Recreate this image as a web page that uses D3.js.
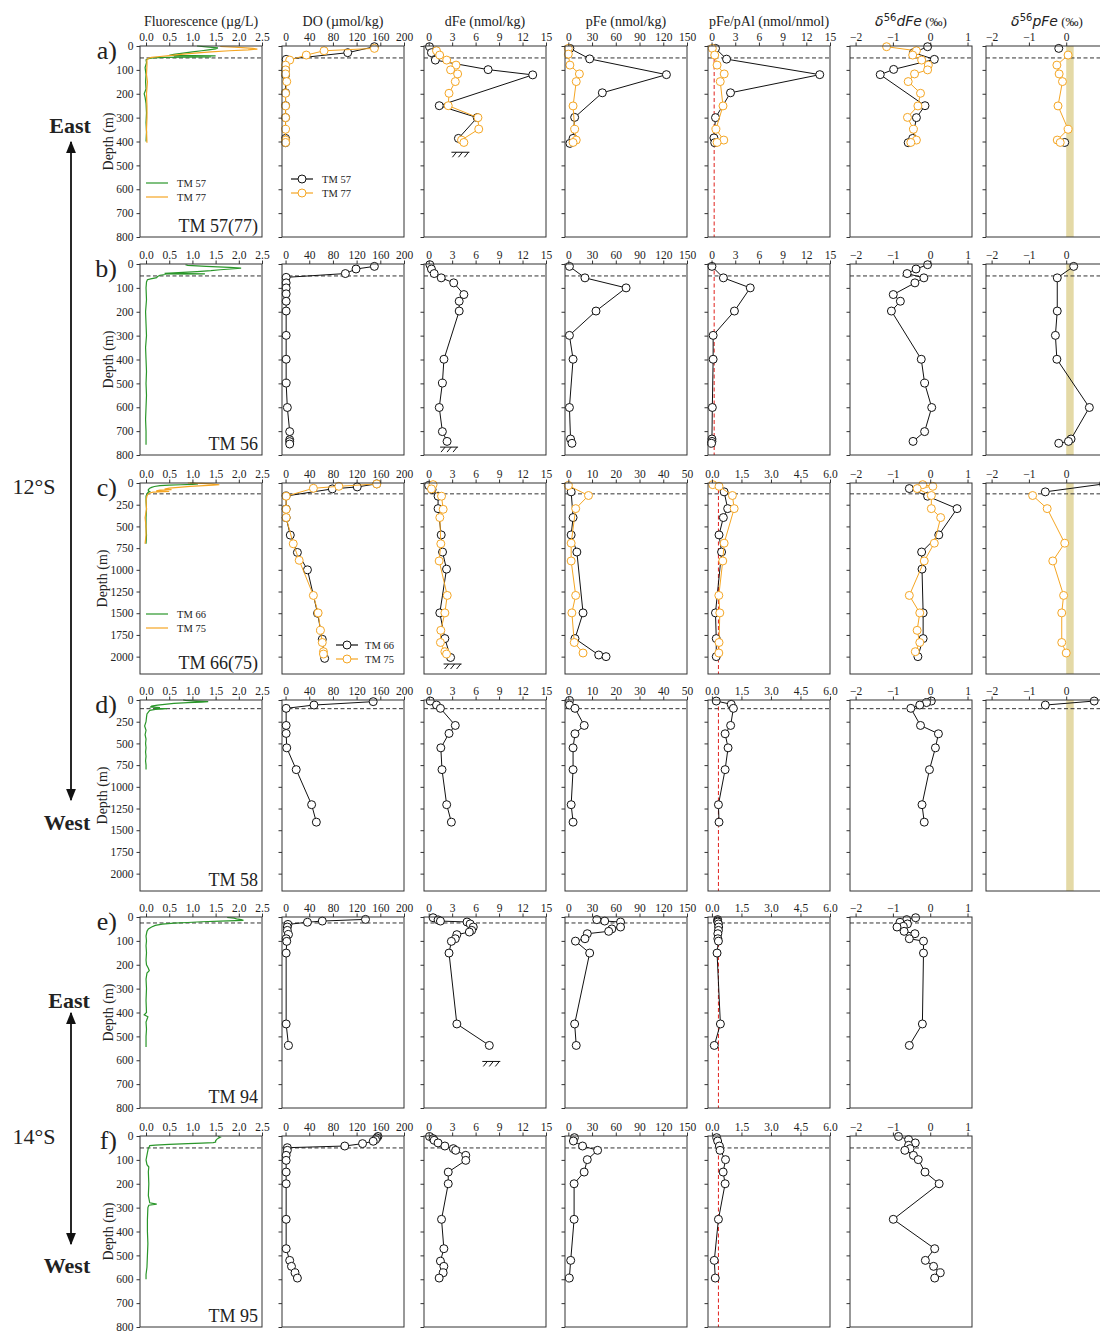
<!DOCTYPE html>
<html>
<head>
<meta charset="utf-8">
<script src="https://cdn.jsdelivr.net/npm/d3@7"></script>
<style>
body { margin: 0; background: #fff; }
svg text { font-family: "Liberation Serif", "Times New Roman", serif; fill: #222; }
</style>
</head>
<body>
<script>
// ---- data: [depth (m), value] ----
// a) TM 57 / TM 77
var fl_tm57 = [[0,1.1],[4,1.3],[8,1.55],[12,1.5],[16,1.35],[20,1.2],[25,1.0],[30,0.8],[35,0.6],[39,0.5],[41,1.5],[43,0.6],[46,1.4],[48,0.4],[50,0.15],[53,0.05],[58,0.0],[70,0.01],[90,-0.02],[120,0.0],[150,-0.01],[180,0.0],[200,-0.04],[215,-0.02],[240,0.0],[280,0.01],[320,0.0],[360,0.01],[400,0.0]];
var fl_tm77 = [[2,1.6],[6,2.0],[10,2.3],[13,2.4],[16,2.2],[20,1.8],[25,1.4],[30,1.05],[35,0.75],[40,0.5],[44,0.3],[48,0.12],[52,0.04],[58,0.02],[80,0.02],[120,0.01],[150,0.03],[200,0.01],[250,0.02],[300,0.02],[350,0.01],[405,0.02]];
var do_tm57 = [[3,150],[28,105],[56,1],[99,0],[121,0],[196,0],[250,0],[300,0],[387,0],[405,0]];
var do_tm77 = [[10,150],[20,65],[38,35],[59,7],[80,0],[100,0],[117,0],[149,2],[198,0],[251,0],[300,0],[349,0],[394,0],[404,0]];
var dfe_tm57 = [[3,0.1],[28,0.35],[59,0.85],[99,7.6],[121,13.3],[250,1.35],[300,6.2],[387,3.8]];
var dfe_tm77 = [[20,1.0],[38,1.4],[59,2.3],[80,3.5],[100,2.8],[117,3.7],[149,3.4],[198,2.6],[250,2.5],[300,6.3],[348,6.4],[394,4.2],[404,4.5]];
var pfe_tm57 = [[10,2],[54,27],[120,124],[196,43],[299,8],[387,6],[408,2]];
var pfe_tm77 = [[10,0],[34,0],[80,2],[117,14],[149,10],[251,6],[349,8],[394,10],[404,6]];
var ratio_tm57 = [[10,0.5],[55,1.9],[120,13.7],[196,2.4],[300,0.5],[385,0.3],[405,0.4]];
var ratio_tm77 = [[10,0.1],[38,0.4],[80,0.7],[117,1.6],[149,1.1],[251,1.45],[349,0.55],[394,1.55],[404,0.7]];
var d56d_tm57 = [[3,-0.07],[28,-0.45],[56,0.11],[98,-0.98],[120,-1.34],[250,-0.14],[300,-0.37],[387,-0.47],[405,-0.59]];
var d56d_tm77 = [[3,-1.17],[20,-0.37],[38,-0.47],[59,-0.23],[80,-0.05],[100,-0.07],[117,-0.42],[149,-0.59],[198,-0.26],[251,-0.33],[299,-0.61],[349,-0.45],[394,-0.37],[404,-0.52]];
var d56p_tm57 = [[10,-0.2],[54,null],[404,-0.04]];
var d56p_tm77 = [[38,0.05],[80,-0.25],[117,-0.19],[149,-0.1],[251,-0.22],[349,0.05],[394,-0.24],[404,-0.16]];

// b) TM 56
var fl_tm56 = [[3,0.85],[6,0.9],[10,1.3],[14,1.8],[17,2.05],[20,1.9],[24,1.6],[28,1.4],[32,1.1],[36,0.7],[39,0.4],[41,1.27],[43,0.45],[47,0.3],[52,0.25],[57,0.23],[62,0.1],[66,0.03],[75,0.01],[100,0.0],[150,0.01],[200,-0.01],[250,0.0],[300,0.01],[350,-0.01],[400,0.0],[450,0.01],[500,0.0],[550,0.01],[600,0.0],[650,-0.01],[700,0.0],[757,0.0]];
var do_tm56 = [[10,150],[21,119],[40,101],[56,1],[79,1],[100,1],[125,1],[156,1],[197,1],[299,1],[399,1],[499,1],[601,3],[702,7],[736,7],[744,7],[754,7]];
var dfe_tm56 = [[3,0.15],[21,0.35],[40,0.7],[58,1.6],[79,3.2],[128,4.5],[156,3.9],[197,3.9],[399,1.95],[499,1.75],[601,1.35],[702,1.75],[743,2.35]];
var pfe_tm56 = [[10,1.4],[58,21],[100,73],[197,35],[299,1.4],[399,6],[601,1.4],[733,2.8],[751,4.6]];
var ratio_tm56 = [[10,0.05],[58,1.5],[100,4.9],[197,2.9],[299,0.2],[399,0.2],[601,0.1],[733,0.05],[743,0.05],[751,0.0]];
var d56d_tm56 = [[3,-0.07],[21,-0.38],[40,-0.62],[58,-0.17],[79,-0.41],[128,-0.99],[156,-0.8],[197,-1.04],[399,-0.24],[499,-0.15],[601,0.04],[702,-0.15],[743,-0.46]];
var d56p_tm56 = [[10,0.2],[58,-0.24],[197,-0.24],[299,-0.29],[399,-0.25],[601,0.62],[733,0.13],[743,0.06],[751,-0.2]];

// c) TM 66 / TM 75
var fl_tm66 = [[0,0.95],[5,1.05],[10,1.12],[15,1.0],[20,0.75],[25,0.5],[30,0.3],[40,0.18],[50,0.12],[60,0.08],[75,0.05],[90,0.05],[100,0.08],[110,0.04],[125,0.02],[150,0.0],[200,0.0],[300,0.01],[400,0.0],[500,0.0],[600,0.01],[700,0.0]];
var fl_tm75 = [[0,0.9],[5,1.2],[10,1.4],[15,1.5],[20,1.58],[25,1.45],[30,1.25],[40,0.95],[50,0.7],[60,0.5],[70,0.4],[76,0.55],[82,0.3],[90,0.22],[98,0.5],[106,0.15],[115,0.08],[130,0.04],[150,0.02],[200,0.0],[300,0.01],[400,-0.02],[500,0.0],[600,0.0],[700,-0.02]];
var do_tm66 = [[10,154],[45,121],[68,79],[150,1],[300,1],[400,1],[600,8],[800,20],[1000,37],[1500,54],[1800,62],[2020,66]];
var do_tm75 = [[11,154],[38,90],[61,47],[152,1],[303,1],[398,1],[700,13],[890,23],[1295,47],[1496,55],[1697,59],[1837,62],[1943,64],[1970,64]];
var dfe_tm66 = [[30,0],[76,0.43],[152,1.2],[295,1.2],[598,1.6],[795,1.77],[992,2.28],[1496,1.42],[1792,2.07],[2010,2.8]];
var dfe_tm75 = [[19,0.56],[68,0.35],[152,1.64],[303,1.85],[398,1.42],[700,1.55],[898,1.34],[1295,2.37],[1496,2.07],[1697,1.55],[1837,1.5],[1943,2.07],[1970,2.28]];
var pfe_tm66 = [[102,1.2],[398,2],[598,1.2],[795,3.6],[1496,6.2],[1792,2.8],[1981,12.8],[2000,15.9]];
var pfe_tm75 = [[30,0],[144,8.5],[295,3.1],[693,1.2],[898,1.2],[1295,3.1],[1496,1.5],[1837,2.5],[1958,6.2]];
var ratio_tm66 = [[102,0.62],[295,0.8],[398,0.58],[598,0.36],[795,0.49],[1496,0.18],[1792,0.22],[2000,0.22]];
var ratio_tm75 = [[19,0.04],[38,0.36],[144,1.04],[295,1.13],[693,0.62],[898,0.55],[1295,0.35],[1496,0.4],[1837,0.36],[1958,0.35]];
var d56d_tm66 = [[64,-0.56],[152,-0.07],[295,0.72],[598,0.23],[795,-0.23],[992,-0.22],[1496,-0.19],[1792,-0.19],[2000,-0.33]];
var d56d_tm75 = [[19,-0.2],[38,0.07],[64,-0.35],[144,0.03],[295,0.03],[398,0.28],[693,0.11],[898,-0.16],[1295,-0.56],[1496,-0.28],[1697,-0.35],[1837,-0.28],[1943,-0.4]];
var d56p_tm66 = [[11,1.0],[102,-0.56]];
var d56p_tm75 = [[144,-0.9],[295,-0.51],[693,-0.04],[898,-0.36],[1295,-0.07],[1496,-0.12],[1837,-0.12],[1958,0]];

// d) TM 58
var fl_tm58 = [[0,0.8],[5,0.85],[10,1.0],[15,1.2],[19,1.34],[24,1.2],[30,0.9],[40,0.6],[50,0.4],[60,0.25],[70,0.12],[80,0.1],[88,0.3],[95,0.2],[100,0.45],[108,0.2],[120,0.08],[140,0.05],[160,0.02],[200,0.01],[250,0.0],[300,-0.03],[350,0.0],[400,-0.02],[450,0.0],[500,-0.01],[550,0.0],[600,-0.01],[650,0.0],[700,-0.01],[750,0.0],[800,0.0]];
var do_tm58 = [[19,148],[58,48],[96,1],[293,1],[385,1],[551,2],[802,18],[1206,44],[1407,52]];
var dfe_tm58 = [[12,0.2],[58,1.0],[96,1.5],[293,3.4],[385,2.6],[551,1.55],[802,1.7],[1206,2.3],[1407,2.9]];
var pfe_tm58 = [[5,0.5],[58,0.5],[96,2.8],[293,6.7],[389,2.8],[551,2],[802,2],[1206,1.2],[1407,2]];
var ratio_tm58 = [[12,0.22],[50,0.98],[96,1.09],[293,0.95],[389,0.67],[551,0.82],[802,0.67],[1206,0.33],[1407,0.36]];
var d56d_tm58 = [[12,0.03],[30,-0.1],[58,-0.28],[96,-0.52],[293,-0.26],[389,0.22],[551,0.14],[802,-0.02],[1206,-0.22],[1407,-0.16]];
var d56p_tm58 = [[12,0.75],[58,-0.56]];

// e) TM 94
var fl_tm94 = [[2,1.75],[5,1.9],[8,1.95],[11,2.05],[14,2.1],[17,1.6],[20,1.2],[23,0.9],[26,0.6],[30,0.35],[35,0.2],[42,0.12],[50,0.05],[60,0.02],[80,0.0],[100,0.01],[120,0.0],[150,0.01],[180,0.0],[200,0.01],[215,0.05],[225,0.07],[235,0.02],[260,0.0],[300,0.01],[350,0.0],[400,0.01],[410,-0.04],[418,0.04],[440,0.0],[470,0.01],[500,0.0],[545,0.0]];
var do_tm94 = [[10,135],[17,62],[22,37],[31,4],[42,3],[56,3],[73,5],[91,1],[102,2],[151,1],[448,1],[538,5]];
var dfe_tm94 = [[3,0.56],[12,1.2],[17,1.5],[21,4.9],[29,5.3],[42,5.7],[56,5.5],[63,5.2],[74,3.6],[91,3.4],[102,2.9],[151,2.6],[448,3.6],[538,7.75]];
var pfe_tm94 = [[11,36],[17,46],[21,66],[42,66],[50,55],[60,51],[70,24],[91,21],[101,9],[151,27],[448,8],[538,10]];
var ratio_tm94 = [[11,0.29],[17,0.29],[21,0.3],[29,0.33],[42,0.34],[56,0.33],[70,0.3],[91,0.3],[101,0.33],[151,0.26],[448,0.43],[538,0.12]];
var d56d_tm94 = [[3,-0.39],[11,-0.63],[22,-0.81],[29,-0.61],[39,-0.72],[42,-0.89],[60,-0.7],[70,-0.41],[91,-0.56],[101,-0.18],[151,-0.18],[448,-0.21],[538,-0.56]];

// f) TM 95
var fl_tm95 = [[2,1.55],[5,1.6],[10,1.55],[15,1.52],[20,1.5],[25,1.5],[28,1.45],[30,1.2],[32,0.9],[35,0.5],[38,0.2],[40,0.08],[45,0.07],[50,0.05],[60,0.04],[80,0.02],[100,0.0],[120,0.02],[130,0.06],[150,0.05],[200,0.06],[250,0.05],[280,0.08],[285,0.23],[290,0.06],[295,0.05],[300,0.04],[350,0.03],[400,0.03],[450,0.04],[500,0.03],[550,0.02],[580,0.0],[600,0.0]];
var do_tm95 = [[2,156],[8,154],[15,152],[22,148],[32,130],[42,100],[49,3],[60,3],[81,1],[102,1],[151,1],[200,1],[349,1],[472,1],[521,7],[546,10],[573,16],[595,20]];
var dfe_tm95 = [[2,0.1],[11,0.56],[18,0.7],[29,1.2],[42,2.07],[53,3.15],[60,3.45],[81,4.74],[102,4.74],[151,2.5],[200,2.5],[349,1.64],[472,1.94],[524,1.5],[546,1.94],[573,1.85],[595,1.34]];
var pfe_tm95 = [[7,7.7],[21,6.4],[42,18],[60,37],[99,24],[151,20],[200,7.3],[349,7.3],[521,3],[595,1.3]];
var ratio_tm95 = [[7,0.24],[21,0.29],[42,0.38],[60,0.41],[99,0.69],[151,0.57],[200,0.67],[349,0.33],[521,0.12],[595,0.17]];
var d56d_tm95 = [[2,-0.85],[15,-0.58],[29,-0.4],[39,-0.58],[53,-0.54],[60,-0.68],[81,-0.45],[99,-0.32],[151,-0.14],[200,0.24],[349,-0.99],[472,0.12],[521,-0.13],[546,0.09],[573,0.27],[595,0.12]];

// per-row settings
var rowTags = ["a)", "b)", "c)", "d)", "e)", "f)"];
var stationNames = ["TM 57(77)", "TM 56", "TM 66(75)", "TM 58", "TM 94", "TM 95"];
var depthMax = [800, 800, 2200, 2200, 800, 800];
var mixedLayer = [50, 50, 125, 100, 25, 50];
var seafloor = [445, 767, 2085, null, 605, null];
var pfeMax = [150, 150, 50, 50, 150, 150];
var ratioMax = [15, 15, 6, 6, 6, 6];
var headers = ["Fluorescence (\u00b5g/L)", "DO (\u00b5mol/kg)", "dFe (nmol/kg)", "pFe (nmol/kg)", "pFe/pAl (nmol/nmol)", "dFe", "pFe"];
var crustalRatio = 0.33;
var pFeBand = [0, 0.2];

var rowsData = [
  [[fl_tm57, fl_tm77], [do_tm57, do_tm77], [dfe_tm57, dfe_tm77], [pfe_tm57, pfe_tm77], [ratio_tm57, ratio_tm77], [d56d_tm57, d56d_tm77], [d56p_tm57, d56p_tm77]],
  [[fl_tm56], [do_tm56], [dfe_tm56], [pfe_tm56], [ratio_tm56], [d56d_tm56], [d56p_tm56]],
  [[fl_tm66, fl_tm75], [do_tm66, do_tm75], [dfe_tm66, dfe_tm75], [pfe_tm66, pfe_tm75], [ratio_tm66, ratio_tm75], [d56d_tm66, d56d_tm75], [d56p_tm66, d56p_tm75]],
  [[fl_tm58], [do_tm58], [dfe_tm58], [pfe_tm58], [ratio_tm58], [d56d_tm58], [d56p_tm58]],
  [[fl_tm94], [do_tm94], [dfe_tm94], [pfe_tm94], [ratio_tm94], [d56d_tm94]],
  [[fl_tm95], [do_tm95], [dfe_tm95], [pfe_tm95], [ratio_tm95], [d56d_tm95]]
];
var legendNames = [["TM 57", "TM 77"], null, ["TM 66", "TM 75"], null, null, null];

// ---- layout ----
var colLeft = [140, 282, 424, 565, 708, 850, 986];
var rowTop = [46, 264, 483, 700, 917, 1136];
var pw = 122, ph = 191;
var black = "#111", orange = "#f5a623", green = "#2a962a";

var svg = d3.select("body").append("svg")
  .attr("width", 1100)
  .attr("height", 1331);

function xSetup(ci, ri) {
  if (ci == 0) return {dom: [-0.13, 2.5], ticks: d3.range(0, 2.51, 0.5), fmt: d3.format(".1f")};
  if (ci == 1) return {dom: [-6, 200], ticks: d3.range(0, 201, 40), fmt: d3.format("d")};
  if (ci == 2) return {dom: [-0.6, 15], ticks: d3.range(0, 16, 3), fmt: d3.format("d")};
  if (ci == 3) { var m = pfeMax[ri]; return {dom: [-m * 0.028, m], ticks: d3.range(0, m + 1, m / 5), fmt: d3.format("d")}; }
  if (ci == 4) {
    var r = ratioMax[ri];
    if (r == 15) return {dom: [-0.45, 15], ticks: d3.range(0, 16, 3), fmt: d3.format("d")};
    return {dom: [-0.2, 6], ticks: d3.range(0, 6.01, 1.5), fmt: d3.format(".1f")};
  }
  return {dom: [-2.15, 1.12], ticks: [-2, -1, 0, 1], fmt: d3.format("d")};
}

rowsData.forEach(function(cols, ri) {
  var top = rowTop[ri];
  var y = d3.scaleLinear().domain([0, depthMax[ri]]).range([0, ph]);

  cols.forEach(function(series, ci) {
    var xs = xSetup(ci, ri);
    var x = d3.scaleLinear().domain(xs.dom).range([0, pw]);
    var g = svg.append("g").attr("transform", "translate(" + colLeft[ci] + "," + top + ")");

    // shaded band for d56pFe
    if (ci == 6) {
      g.append("rect")
        .attr("x", x(pFeBand[0])).attr("y", 0)
        .attr("width", x(pFeBand[1]) - x(pFeBand[0])).attr("height", ph)
        .attr("fill", "#e4d9a6");
    }
    // crustal pFe/pAl ratio
    if (ci == 4) {
      g.append("line")
        .attr("x1", x(crustalRatio)).attr("x2", x(crustalRatio))
        .attr("y1", 0).attr("y2", ph)
        .attr("stroke", "#e0201c").attr("stroke-width", 1)
        .attr("stroke-dasharray", "4,2.5");
    }
    // mixed layer depth
    g.append("line")
      .attr("x1", 0).attr("x2", pw)
      .attr("y1", y(mixedLayer[ri])).attr("y2", y(mixedLayer[ri]))
      .attr("stroke", "#333").attr("stroke-width", 1)
      .attr("stroke-dasharray", "4,2.5");

    var line = d3.line()
      .defined(function(d) { return d[1] != null; })
      .x(function(d) { return x(d[1]); })
      .y(function(d) { return y(d[0]); });

    series.forEach(function(data, si) {
      if (ci == 0) {
        g.append("path").datum(data)
          .attr("d", line)
          .attr("fill", "none")
          .attr("stroke", si == 0 ? green : orange)
          .attr("stroke-width", 1.2);
      } else {
        var c = si == 0 ? black : orange;
        g.append("path").datum(data)
          .attr("d", line)
          .attr("fill", "none")
          .attr("stroke", c)
          .attr("stroke-width", 1);
        g.selectAll(null)
          .data(data.filter(function(d) { return d[1] != null; }))
          .enter().append("circle")
          .attr("cx", function(d) { return x(d[1]); })
          .attr("cy", function(d) { return y(d[0]); })
          .attr("r", 4)
          .attr("fill", "#fff")
          .attr("stroke", c)
          .attr("stroke-width", 1);
      }
    });

    // seafloor mark under dFe
    if (ci == 2 && seafloor[ri] != null) {
      var last = series[0][series[0].length - 1];
      var cx = x(last[1]) + 2, cy = y(seafloor[ri]);
      g.append("path")
        .attr("d", "M" + (cx - 9) + "," + cy + "H" + (cx + 9) +
          "M" + (cx - 8) + "," + (cy + 5) + "L" + (cx - 4) + "," + cy +
          "M" + (cx - 2) + "," + (cy + 5) + "L" + (cx + 2) + "," + cy +
          "M" + (cx + 4) + "," + (cy + 5) + "L" + (cx + 8) + "," + cy)
        .attr("fill", "none").attr("stroke", "#111").attr("stroke-width", 1);
    }

    // axes
    var ax = g.append("g").call(d3.axisTop(x).tickValues(xs.ticks).tickFormat(xs.fmt).tickSize(3.5).tickPadding(2));
    var ay = g.append("g").call(d3.axisLeft(y)
      .tickValues(depthMax[ri] == 800 ? d3.range(0, 801, 100) : d3.range(0, 2001, 250))
      .tickSize(3.5).tickPadding(3)
      .tickFormat(ci == 0 ? d3.format("d") : ""));
    [ax, ay].forEach(function(a) {
      a.select(".domain").remove();
      a.selectAll("line").attr("stroke", "#333");
      a.selectAll("text").attr("font-size", 11.5).attr("fill", "#222")
        .style("font-family", "'Liberation Serif', serif");
    });

    g.append("rect").attr("width", pw).attr("height", ph)
      .attr("fill", "none").attr("stroke", "#333").attr("stroke-width", 1);

    // column headers
    if (ri == 0) {
      var ht = g.append("text").attr("x", pw / 2).attr("y", -20)
        .attr("text-anchor", "middle").attr("font-size", 14);
      if (ci < 5) {
        ht.text(headers[ci]);
      } else {
        ht.append("tspan").text("\u03b4").style("font-family", "'DejaVu Sans', sans-serif").style("font-style", "italic");
        ht.append("tspan").text("56").attr("dy", -5).attr("font-size", 10).style("font-family", "'DejaVu Sans', sans-serif");
        ht.append("tspan").text(headers[ci]).attr("dy", 5).style("font-family", "'DejaVu Sans', sans-serif").style("font-style", "italic");
        ht.append("tspan").text(" (\u2030)").attr("font-size", 13);
      }
    }

    if (ci == 0) {
      g.append("text").attr("x", pw - 4).attr("y", ph - 5)
        .attr("text-anchor", "end").attr("font-size", 18)
        .text(stationNames[ri]);
      g.append("text").attr("x", -23).attr("y", 13)
        .attr("text-anchor", "end").attr("font-size", 26)
        .text(rowTags[ri]);
      var dx = depthMax[ri] == 800 ? -27 : -33;
      g.append("text")
        .attr("transform", "translate(" + dx + "," + (ph / 2) + ") rotate(-90)")
        .attr("text-anchor", "middle").attr("font-size", 14)
        .text("Depth (m)");
    }

    // legends
    if (legendNames[ri] && (ci == 0 || ci == 1)) {
      var lx, ly, tx;
      if (ci == 0) { lx = 6; tx = 37; ly = ri == 0 ? 137 : 131; }
      else if (ri == 0) { lx = 9; tx = 40; ly = 133; }
      else { lx = 54; tx = 83; ly = 162; }
      legendNames[ri].forEach(function(name, si) {
        var c = si == 0 ? (ci == 0 ? green : black) : orange;
        var yy = ly + si * 14;
        g.append("line").attr("x1", lx).attr("x2", lx + 22).attr("y1", yy).attr("y2", yy)
          .attr("stroke", c).attr("stroke-width", 1.2);
        if (ci == 1) {
          g.append("circle").attr("cx", lx + 11).attr("cy", yy).attr("r", 4)
            .attr("fill", "#fff").attr("stroke", c);
        }
        g.append("text").attr("x", tx).attr("y", yy + 3.5).attr("font-size", 10.5).text(name);
      });
    }
  });
});

// side annotations
svg.append("defs").append("marker")
  .attr("id", "ah").attr("viewBox", "0 0 10 10").attr("refX", 9).attr("refY", 5)
  .attr("markerWidth", 7).attr("markerHeight", 7).attr("orient", "auto-start-reverse")
  .append("path").attr("d", "M0,1L10,5L0,9z").attr("fill", "#111");

function arrow(x, y1, y2) {
  svg.append("line").attr("x1", x).attr("x2", x).attr("y1", y1).attr("y2", y2)
    .attr("stroke", "#111").attr("stroke-width", 1.8)
    .attr("marker-start", "url(#ah)").attr("marker-end", "url(#ah)");
}
arrow(71, 142, 800);
arrow(71, 1013, 1244);

function side(t, x, y, bold) {
  svg.append("text").attr("x", x).attr("y", y).attr("text-anchor", "middle")
    .attr("font-size", 22).attr("font-weight", bold ? "bold" : "normal").text(t);
}
side("East", 70, 133, true);
side("West", 67, 830, true);
side("12\u00b0S", 34, 494, false);
side("East", 69, 1008, true);
side("West", 67, 1273, true);
side("14\u00b0S", 34, 1144, false);
</script>
</body>
</html>
